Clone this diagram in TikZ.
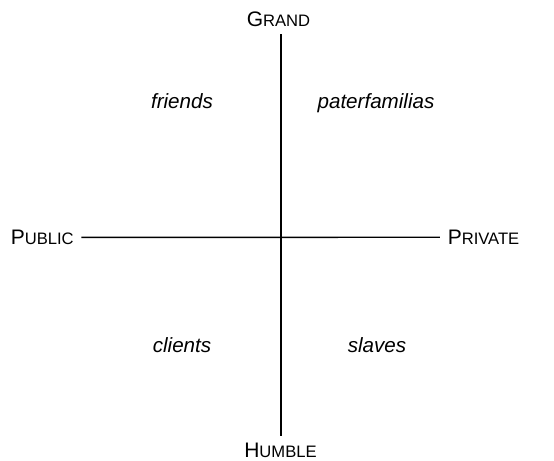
\documentclass[tikz,border=0pt]{standalone}
\usepackage{fontspec}
\setmainfont{Liberation Sans}
\usetikzlibrary{positioning}
\usetikzlibrary{calc}

% small capitals built from two sizes
\newcommand{\capsname}[2]{{\fontsize{10.5}{12}\selectfont #1}{\fontsize{8.3}{10}\selectfont #2}}

\begin{document}
\begin{tikzpicture}[x=0.5pt,y=-0.5pt,thick,
                    axis/.style={line width=0.7pt},
                    pole node/.style={inner sep=3.5pt},
                    role node/.style={font=\itshape\fontsize{10.3}{12}\selectfont}]
\useasboundingbox (0,0) rectangle (554,461);

\coordinate (hub) at (281,237);

\node[pole node,anchor=base] (grand) at (278.5,26) {\capsname{G}{RAND}};
\node[pole node,anchor=base] (humble) at (280.5,458) {\capsname{H}{UMBLE}};
\node[pole node,anchor=base west] (public) at (3,244.5) {\capsname{P}{UBLIC}};
\node[pole node,anchor=base west] (private) at (440,244.5) {\capsname{P}{RIVATE}};

\node[role node,anchor=base] (friends) at (182,108) {friends};
\node[role node,anchor=base] (pater) at (376,108) {paterfamilias};
\node[role node,anchor=base] (clients) at (182,352) {clients};
\node[role node,anchor=base] (slaves) at (377,352) {slaves};

\draw[axis] (public.east) -- (private.west);
\draw[axis] (grand.south -| hub) -- (humble.north -| hub);
\end{tikzpicture}
\end{document}
